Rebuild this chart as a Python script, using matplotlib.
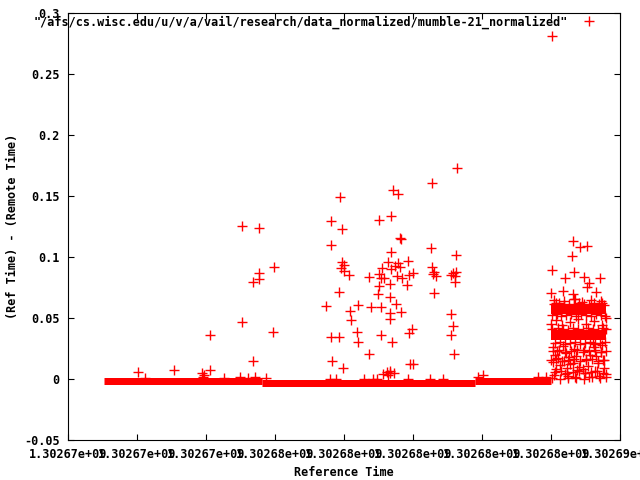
import matplotlib
matplotlib.use("Agg")
import matplotlib.pyplot as plt
import numpy as np
from matplotlib.ticker import FuncFormatter

# gnuplot-looking defaults
plt.rcParams['font.family'] = ['DejaVu Sans Mono']
plt.rcParams['font.size'] = 8.5
plt.rcParams['font.weight'] = 'bold'

t0 = 1302670000
label = '"/afs/cs.wisc.edu/u/v/a/vail/research/data_normalized/mumble-21_normalized"'

# dense runs of points near zero (start offset, end offset, value, thickness in px)
run_start = [1044, 5626, 11803, 14007, 14007]
run_end = [5626, 11803, 14007, 15602, 15602]
run_value = [-0.0018, -0.0033, -0.0018, 0.0574, 0.0361]
run_px = [7, 7, 7, 10, 10]

# scattered points, time offsets from t0 (s) and offset values (s)
left_t = [5046, 5539, 5974, 5539, 5539, 5365, 5046, 4118, 5945, 5365, 2030, 3074,
          3886, 3944, 3915, 4118]
left_v = [0.1254, 0.1238, 0.0918, 0.0869, 0.0820, 0.0795, 0.0467, 0.0361, 0.0385,
          0.0148, 0.0057, 0.0074, 0.0049, 0.0033, 0.0016, 0.0074]

spike_t = [2233, 4524, 4988, 5220, 5423, 5742, 7598, 7772, 8584, 8845, 8961, 9860,
           10498, 10875, 11890, 13630, 13862]
spike_v = [0.0012, 0.0012, 0.0015, 0.0012, 0.0014, 0.0010, -0.0003, 0.0000, -0.0002,
           0.0002, 0.0000, -0.0003, -0.0001, 0.0000, 0.0014, 0.0016, 0.0013]

mid_t = [11281, 10556, 9425, 9570, 7888, 7627, 9019, 9367, 7946, 9628, 9657, 7627,
         10527, 9367, 11252, 7946, 8004, 7917, 8004, 9280, 9570, 9483, 9628, 9860,
         9106, 9367, 8149, 8729, 9019, 9077, 9164, 9541, 9686, 9889, 10005, 10556,
         10614, 10585, 10672, 11165, 11223, 11107, 11252, 11223, 9338, 9019, 9831,
         7859, 8990, 10614, 9338, 7482, 8410, 8787, 9077, 9512, 8178, 9657, 9338,
         9338, 11107, 8207, 11165, 8381, 9976, 9889, 7627, 7859, 9077, 11107, 8410,
         9396, 8729, 11194, 7656, 7975, 9918, 10005, 9338, 9454, 9280, 12035, 9135,
         9251, 9338]
mid_v = [0.1730, 0.1607, 0.1549, 0.1516, 0.1492, 0.1295, 0.1303, 0.1336, 0.1230,
         0.1156, 0.1148, 0.1098, 0.1074, 0.1041, 0.1016, 0.0959, 0.0934, 0.0910,
         0.0885, 0.0959, 0.0951, 0.0926, 0.0918, 0.0967, 0.0910, 0.0902, 0.0852,
         0.0836, 0.0861, 0.0828, 0.0828, 0.0844, 0.0828, 0.0852, 0.0869, 0.0918,
         0.0877, 0.0861, 0.0844, 0.0869, 0.0844, 0.0852, 0.0877, 0.0795, 0.0779,
         0.0762, 0.0770, 0.0713, 0.0697, 0.0705, 0.0672, 0.0598, 0.0607, 0.0590,
         0.0590, 0.0615, 0.0557, 0.0549, 0.0541, 0.0492, 0.0533, 0.0484, 0.0434,
         0.0385, 0.0410, 0.0377, 0.0344, 0.0344, 0.0361, 0.0361, 0.0303, 0.0303,
         0.0205, 0.0205, 0.0148, 0.0090, 0.0123, 0.0123, 0.0066, 0.0049, 0.0033,
         0.0033, 0.0040, 0.0057, 0.0049]

right_t = [14036, 14645, 14848, 15051, 14616, 14036, 14674, 14413, 14964, 15109,
           15051, 15428, 14007, 14355, 14645, 15312, 14703, 14152, 15486]
right_v = [0.2811, 0.1131, 0.1082, 0.1090, 0.1008, 0.0893, 0.0877, 0.0828, 0.0836,
           0.0787, 0.0754, 0.0828, 0.0705, 0.0721, 0.0697, 0.0713, 0.0656, 0.0623,
           0.0623]

# the packed block at the right end of the run
block_t = [14065, 14123, 14065, 14152, 14094, 14210, 14268, 14181, 14355, 14442,
           14384, 14471, 14413, 14529, 14558, 14500, 14674, 14732, 14645, 14761,
           14703, 14819, 14964, 15022, 15080, 14993, 15138, 15109, 14935, 15254,
           15312, 15370, 15283, 15399, 15457, 15515, 15544, 15602, 15486, 15225,
           14007, 14152, 14326, 14558, 14790, 15022, 15254, 15486, 15602, 14036,
           14268, 14500, 14732, 14964, 15196, 15428, 15602, 14094, 14384, 14674,
           14906, 15167, 15457]
block_v = [0.0262, 0.0197, 0.0139, 0.0082, 0.0033, 0.0172, 0.0115, 0.0230, 0.0270,
           0.0213, 0.0148, 0.0090, 0.0041, 0.0180, 0.0123, 0.0008, 0.0246, 0.0189,
           0.0131, 0.0074, 0.0016, 0.0098, 0.0238, 0.0164, 0.0107, 0.0049, 0.0197,
           0.0016, 0.0082, 0.0262, 0.0189, 0.0131, 0.0066, 0.0025, 0.0221, 0.0156,
           0.0090, 0.0041, 0.0279, 0.0295, 0.0451, 0.0484, 0.0443, 0.0467, 0.0492,
           0.0451, 0.0475, 0.0443, 0.0500, 0.0008, 0.0000, 0.0025, 0.0008, 0.0000,
           0.0016, 0.0008, 0.0016, 0.0647, 0.0639, 0.0656, 0.0631, 0.0647, 0.0639]

# more of the block: edges of the two packed bands and the lower mesh
block2_t = [14036, 14181, 14297, 14442, 14587, 14732, 14877, 15022, 15167, 15312,
            15457, 15573, 14094, 14239, 14384, 14529, 14674, 14819, 14964, 15109,
            15254, 15399, 15544, 14036, 14210, 14355, 14500, 14645, 14790, 14935,
            15080, 15225, 15370, 15515, 15602, 14123, 14268, 14413, 14558, 14703,
            14848, 14993, 15138, 15283, 15428, 15573, 14065, 14239, 14413, 14587,
            14761, 14935, 15109, 15283, 15457, 15602, 14007, 14152, 14326, 14500,
            14674, 14848, 15022, 15196, 15370, 15544, 14123, 14297, 14471, 14645,
            14819, 14993, 15167, 15341, 15515]
block2_v = [0.0525, 0.0533, 0.0520, 0.0525, 0.0530, 0.0520, 0.0533, 0.0525, 0.0520,
            0.0530, 0.0525, 0.0520, 0.0615, 0.0620, 0.0610, 0.0615, 0.0607, 0.0620,
            0.0615, 0.0610, 0.0620, 0.0615, 0.0607, 0.0410, 0.0418, 0.0410, 0.0402,
            0.0418, 0.0410, 0.0405, 0.0418, 0.0410, 0.0402, 0.0418, 0.0410, 0.0295,
            0.0303, 0.0287, 0.0295, 0.0303, 0.0287, 0.0295, 0.0303, 0.0287, 0.0295,
            0.0303, 0.0230, 0.0238, 0.0221, 0.0230, 0.0238, 0.0221, 0.0230, 0.0238,
            0.0221, 0.0230, 0.0156, 0.0164, 0.0148, 0.0156, 0.0164, 0.0148, 0.0156,
            0.0164, 0.0148, 0.0156, 0.0057, 0.0066, 0.0049, 0.0057, 0.0066, 0.0049,
            0.0057, 0.0066, 0.0049]

pts_t = t0 + np.array(left_t + spike_t + mid_t + right_t + block_t + block2_t)
pts_v = np.array(left_v + spike_v + mid_v + right_v + block_v + block2_v)

fig = plt.figure(figsize=(6.4, 4.8), dpi=100)
ax = fig.add_axes([68 / 640, 40 / 480, 552 / 640, 427 / 480])

for s, e, v, w in zip(run_start, run_end, run_value, run_px):
    ax.plot([t0 + s, t0 + e], [v, v], color='red', lw=w * 0.72,
            solid_capstyle='butt')

pts, = ax.plot(pts_t, pts_v, linestyle='none', marker='+', color='red',
               markersize=6.5, markeredgewidth=1.0)

ax.set_xlim(t0, t0 + 16000)
ax.set_ylim(-0.05, 0.3)
ax.set_xticks(np.arange(t0, t0 + 16001, 2000))
ax.set_yticks(np.arange(-0.05, 0.301, 0.05))
fmt = FuncFormatter(lambda v, p: '%g' % (round(v, 6) + 0.0))
ax.xaxis.set_major_formatter(fmt)
ax.yaxis.set_major_formatter(fmt)
ax.tick_params(direction='in', length=4, width=0.8, top=True, right=True,
               labelsize=8.5, pad=6)
for sp in ax.spines.values():
    sp.set_linewidth(0.8)

fig.text(344 / 640, 1 - 472 / 480, 'Reference Time', ha='center', va='center')
fig.text(13 / 640, 1 - 226 / 480, '(Ref Time) - (Remote Time)', rotation=90,
         ha='center', va='center')

ax.legend([pts], [label], loc='center right', bbox_to_anchor=(598 / 640, 1 - 22 / 480),
          bbox_transform=fig.transFigure, markerfirst=False, frameon=False,
          handlelength=1.5, handletextpad=1.0, borderpad=0, borderaxespad=0,
          numpoints=1)

fig.savefig('out.png', dpi=100)
